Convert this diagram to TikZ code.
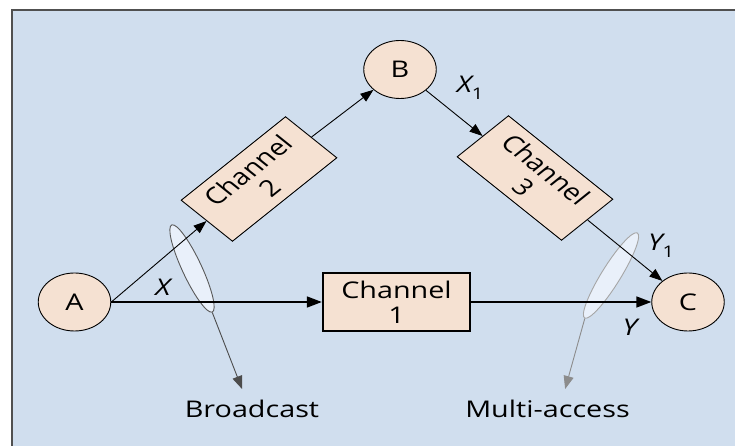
\documentclass[tikz,border=0pt]{standalone}
\usepackage{fontspec}
\setmainfont{Open Sans}
\usetikzlibrary{shapes.geometric,arrows.meta}
\definecolor{bgblue}{RGB}{208,222,238}
\definecolor{peach}{RGB}{245,225,210}
\definecolor{ellfill}{RGB}{233,240,250}
\definecolor{framegray}{RGB}{80,80,80}
\begin{document}
\begin{tikzpicture}[x=0.8pt, y=-1pt, xscale=1.25, transform shape,
  txt/.style={inner sep=0pt, font=\fontsize{23}{25}\selectfont},
  circ/.style={circle, draw, line width=0.9pt, fill=peach, minimum size=58pt, inner sep=0pt, font=\fontsize{23}{25}\selectfont},
  chan/.style={rectangle, draw, line width=0.9pt, fill=peach, minimum width=118pt, minimum height=58pt, inner sep=0pt, align=center, font=\fontsize{23}{25}\selectfont},
  ell/.style={ellipse, draw, line width=0.9pt, fill=ellfill, inner sep=0pt, minimum height=16pt},
  ln/.style={line width=0.9pt, -{Triangle[length=13pt,width=9.5pt]}},
  thk/.style={line width=1.6pt, -{Triangle[length=15pt,width=11pt]}},
  lab/.style={inner sep=0pt, font=\fontsize{23}{25}\selectfont\itshape}
]
\useasboundingbox (0,0) rectangle (735,446);
\fill[bgblue] (12,10) rectangle (735,446);
\draw[line width=1.5pt, framegray] (12,446) -- (12,10) -- (735,10);

% grouping ellipses (behind lines)
\node[ell, draw=black!65, minimum width=93pt, rotate=-69.8] (bc) at (192,268.5) {};
\node[ell, draw=black!35, minimum width=95pt, rotate=63.9] (ma) at (611,275.5) {};

% nodes
\node[circ] (A) at (74.5,302) {A};
\node[circ] (B) at (400,69.5) {B};
\node[circ] (C) at (688,302) {C};
\node[chan, line width=1.6pt] (ch1) at (396.5,302) {Channel\\1};
\node[chan, rotate=45] (ch2) at (259,179) {Channel\\2};
\node[chan, rotate=-45] (ch3) at (535,178) {Channel\\3};

% connectors
\draw[thk] (A.east) -- (ch1.west);
\draw[thk] (ch1.east) -- (C.west);
\draw[ln] (A.east) -- (ch2.west);
\draw[ln] (ch2.east) -- (B);
\draw[ln] (B) -- (ch3.west);
\draw[ln] (ch3.east) -- (C);

% labels
\node[lab] (lX) at (163,287) {X};
\node[lab] (lX1) at (470,88) {X\raisebox{-7pt}{\upshape\fontsize{16}{16}\selectfont 1}};
\node[lab] (lY1) at (661,246) {Y\raisebox{-7pt}{\upshape\fontsize{16}{16}\selectfont 1}};
\node[lab] (lY) at (630,327) {Y};

% broadcast / multi-access
\coordinate (bct) at (242,389);
\coordinate (mat) at (565,389);
\draw[line width=0.9pt, black!70, -{Triangle[length=13pt,width=10pt]}] (bc.east) -- (bct);
\draw[line width=0.9pt, black!45, -{Triangle[length=13pt,width=10pt]}] (ma.west) -- (mat);
\node[txt] (tb) at (252,409) {Broadcast};
\node[txt] (tm) at (547.5,409) {Multi-access};
\end{tikzpicture}
\end{document}
